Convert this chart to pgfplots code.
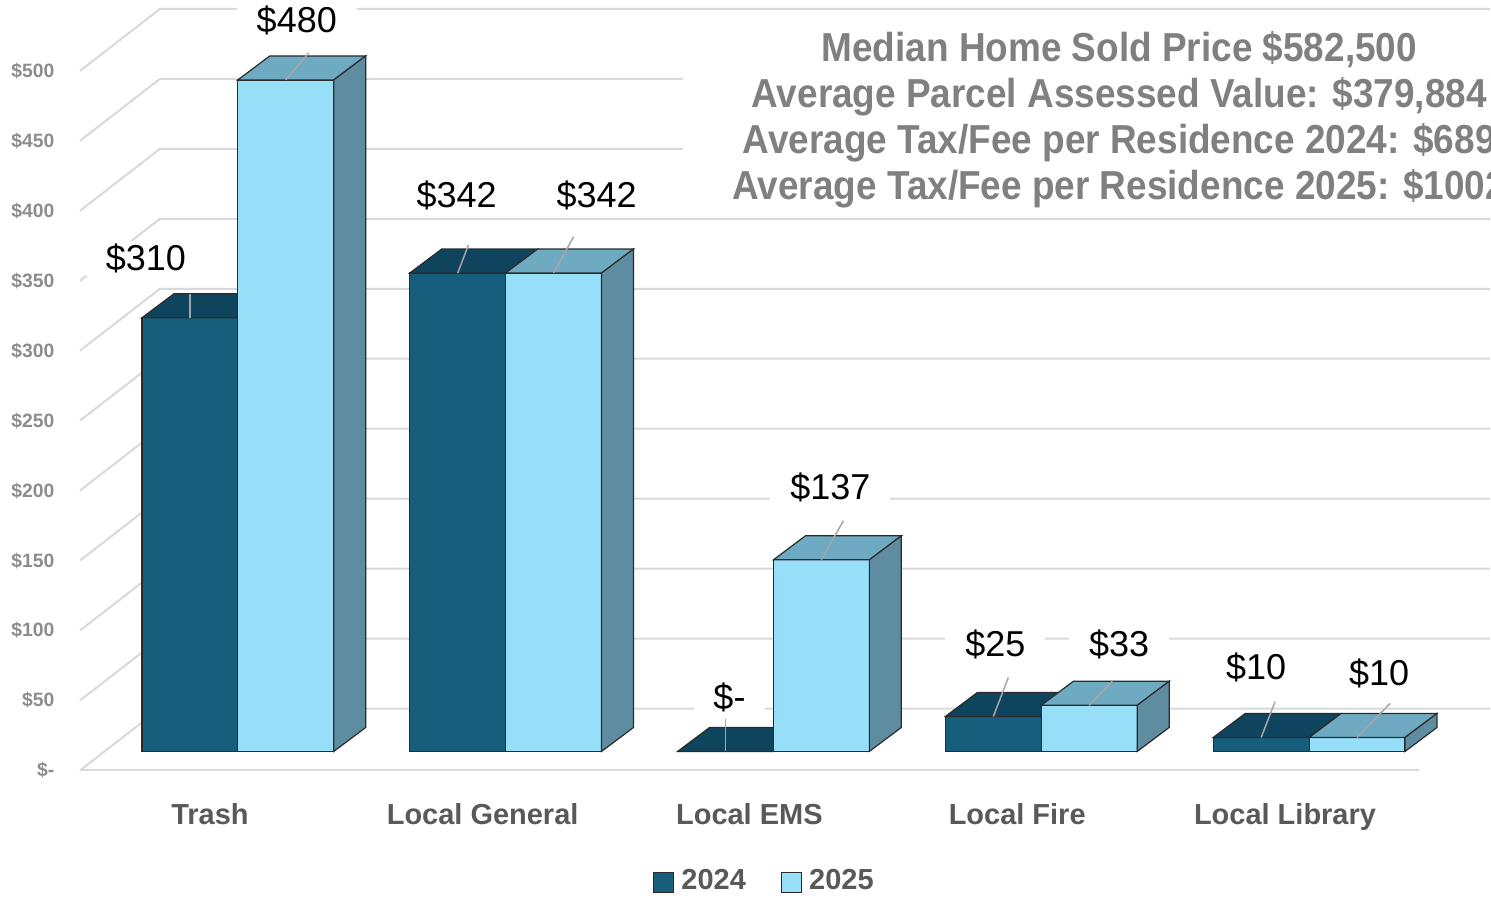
\documentclass[border=0pt]{standalone}
\usepackage{fontspec}
\setmainfont{Liberation Sans}
\newfontfamily\titlefont[FakeStretch=0.913]{Liberation Sans}
\usepackage{pgfplots}
\pgfplotsset{compat=1.18}
\usepackage{pgfplotstable}

\definecolor{cAf}{HTML}{175E7C}
\definecolor{cAt}{HTML}{0F445E}
\definecolor{cBf}{HTML}{97DEF8}
\definecolor{cBt}{HTML}{6FAAC3}
\definecolor{cBs}{HTML}{5E8DA1}
\definecolor{edge}{HTML}{2B2B2B}
\definecolor{gridc}{HTML}{D9D9D9}
\definecolor{titlec}{HTML}{808080}
\definecolor{tickc}{HTML}{8C8C8C}
\definecolor{catc}{HTML}{595959}
\definecolor{leadc}{HTML}{A6A6A6}

\pgfplotstableread{
x v24 v25
0 310 480
1 342 342
2 0 137
3 25 33
4 10 10
}\taxdata

\tikzset{lab/.style={fill=white, inner xsep=2mm, inner ysep=0.3mm, anchor=base, font=\fontsize{10.25}{12}\selectfont},
  tl/.style={overlay, anchor=base, text=titlec, font=\titlefont\bfseries\fontsize{11.52}{13}\selectfont},
  lead/.style={leadc, line width=0.15mm}}
\pgfplotsset{face/.style={draw=edge, line width=0.12mm, forget plot}}

\begin{document}
\begin{tikzpicture}
\begin{axis}[
  width=149.1mm, height=89.6mm, scale only axis,
  xmin=-0.88806, xmax=4.67537, ymin=-102.857, ymax=537.143,
  clip=false,
  axis line style={draw=none}, tick style={draw=none}, major tick length=0pt,
  xtick={-0.104,0.914,1.910,2.910,3.910},
  xticklabels={Trash,Local General,Local EMS,Local Fire,Local Library},
  xticklabel style={font=\fontsize{8.25}{9}\selectfont\bfseries, text=catc, anchor=north, inner sep=0pt, yshift=9.3mm},
  ytick={-13.57,36.43,86.43,136.43,186.43,236.43,286.43,336.43,386.43,436.43,486.43},
  yticklabels={\$-\hspace{0.8mm},\$50,\$100,\$150,\$200,\$250,\$300,\$350,\$400,\$450,\$500},
  yticklabel style={font=\fontsize{5.5}{6}\selectfont\bfseries, text=tickc, anchor=east, inner sep=0pt, xshift=5.5mm},
  legend style={at={(axis cs:1.9757,-93.57)}, anchor=center, draw=none, fill=none,
    legend columns=2, font=\fontsize{8.25}{9}\selectfont\bfseries, text=catc,
    inner sep=0pt, /tikz/every even column/.append style={column sep=2.8mm}},
]
\path (rel axis cs:0,0) rectangle (rel axis cs:1,1);

% back wall grid and floor
\pgfplotsinvokeforeach{0,50,100,150,200,250,300,350,400,450,500}{
  \draw[gridc, line width=0.2mm] (axis cs:-0.5896,{#1-13.57}) -- (axis cs:-0.291,{#1+30.71}) -- (axis cs:4.6754,{#1+30.71});
}
\draw[gridc, line width=0.2mm] (axis cs:-0.5896,-13.57) -- (axis cs:4.41,-13.57);

% 2024 front faces
\addplot[ybar, bar width=0.358, bar shift=-0.179, fill=cAf, draw=edge, line width=0.12mm,
  legend image code/.code={\draw[fill=cAf,draw=edge,line width=0.12mm] (0mm,-1mm) rectangle (2mm,1mm);}]
  table[x=x,y=v24]{\taxdata};
\addlegendentry{2024}

% 2024 top faces
\addplot[face, fill=cAt] coordinates {(-0.358,310) (0,310) (0.1194,327.143) (-0.2386,327.143)} -- cycle;
\addplot[face, fill=cAt] coordinates {(0.642,342) (1,342) (1.1194,359.143) (0.7614,359.143)} -- cycle;
\addplot[face, fill=cAt] coordinates {(1.642,0) (2,0) (2.1194,17.143) (1.7614,17.143)} -- cycle;
\addplot[face, fill=cAt] coordinates {(2.642,25) (3,25) (3.1194,42.143) (2.7614,42.143)} -- cycle;
\addplot[face, fill=cAt] coordinates {(3.642,10) (4,10) (4.1194,27.143) (3.7614,27.143)} -- cycle;

% 2025 front faces
\addplot[ybar, bar width=0.358, bar shift=0.179, fill=cBf, draw=edge, line width=0.12mm,
  legend image code/.code={\draw[fill=cBf,draw=edge,line width=0.12mm] (0mm,-1mm) rectangle (2mm,1mm);}]
  table[x=x,y=v25]{\taxdata};
\addlegendentry{2025}

% 2025 top faces
\addplot[face, fill=cBt] coordinates {(0,480) (0.358,480) (0.4774,497.143) (0.1194,497.143)} -- cycle;
\addplot[face, fill=cBt] coordinates {(1,342) (1.358,342) (1.4774,359.143) (1.1194,359.143)} -- cycle;
\addplot[face, fill=cBt] coordinates {(2,137) (2.358,137) (2.4774,154.143) (2.1194,154.143)} -- cycle;
\addplot[face, fill=cBt] coordinates {(3,33) (3.358,33) (3.4774,50.143) (3.1194,50.143)} -- cycle;
\addplot[face, fill=cBt] coordinates {(4,10) (4.358,10) (4.4774,27.143) (4.1194,27.143)} -- cycle;

% 2025 side faces
\addplot[face, fill=cBs] coordinates {(0.358,0) (0.4774,17.143) (0.4774,497.143) (0.358,480)} -- cycle;
\addplot[face, fill=cBs] coordinates {(1.358,0) (1.4774,17.143) (1.4774,359.143) (1.358,342)} -- cycle;
\addplot[face, fill=cBs] coordinates {(2.358,0) (2.4774,17.143) (2.4774,154.143) (2.358,137)} -- cycle;
\addplot[face, fill=cBs] coordinates {(3.358,0) (3.4774,17.143) (3.4774,50.143) (3.358,33)} -- cycle;
\addplot[face, fill=cBs] coordinates {(4.358,0) (4.4774,17.143) (4.4774,27.143) (4.358,10)} -- cycle;

% leader lines
\draw[lead] (axis cs:-0.179,310) -- (axis cs:-0.179,327.143);
\draw[lead] (axis cs:0.179,480) -- (axis cs:0.265,499.3);
\draw[lead] (axis cs:0.821,342) -- (axis cs:0.861,362);
\draw[lead] (axis cs:1.179,342) -- (axis cs:1.254,368);
\draw[lead] (axis cs:1.821,0) -- (axis cs:1.821,22.9);
\draw[lead] (axis cs:2.179,137) -- (axis cs:2.261,164.9);
\draw[lead] (axis cs:2.821,25) -- (axis cs:2.877,52.9);
\draw[lead] (axis cs:3.179,33) -- (axis cs:3.265,50.1);
\draw[lead] (axis cs:3.821,10) -- (axis cs:3.873,35.7);
\draw[lead] (axis cs:4.179,10) -- (axis cs:4.302,34.3);

% data labels
\node[lab] at (axis cs:-0.343,343.6) {\$310};
\node[lab] at (axis cs:0.2201,513.6) {\$480};
\node[lab] at (axis cs:0.8172,388.6) {\$342};
\node[lab] at (axis cs:1.3396,388.6) {\$342};
\node[lab] at (axis cs:1.8358,30.0) {\$-};
\node[lab] at (axis cs:2.2127,180.0) {\$137};
\node[lab] at (axis cs:2.8284,67.9) {\$25};
\node[lab] at (axis cs:3.2910,67.9) {\$33};
\node[lab] at (axis cs:3.8022,51.4) {\$10};
\node[lab] at (axis cs:4.2612,47.1) {\$10};

% title block
\fill[white] (axis cs:1.6604,390.7) rectangle (axis cs:4.6754,519.3);
\node[tl] at (axis cs:3.291,492.9) {Median Home Sold Price \$582,500};
\node[tl] at (axis cs:3.291,460.0) {Average Parcel Assessed Value: \$379,884};
\node[tl] at (axis cs:3.291,427.1) {Average Tax/Fee per Residence 2024: \$689};
\node[tl] at (axis cs:3.291,394.3) {Average Tax/Fee per Residence 2025: \$1002};
\end{axis}
\end{tikzpicture}
\end{document}
